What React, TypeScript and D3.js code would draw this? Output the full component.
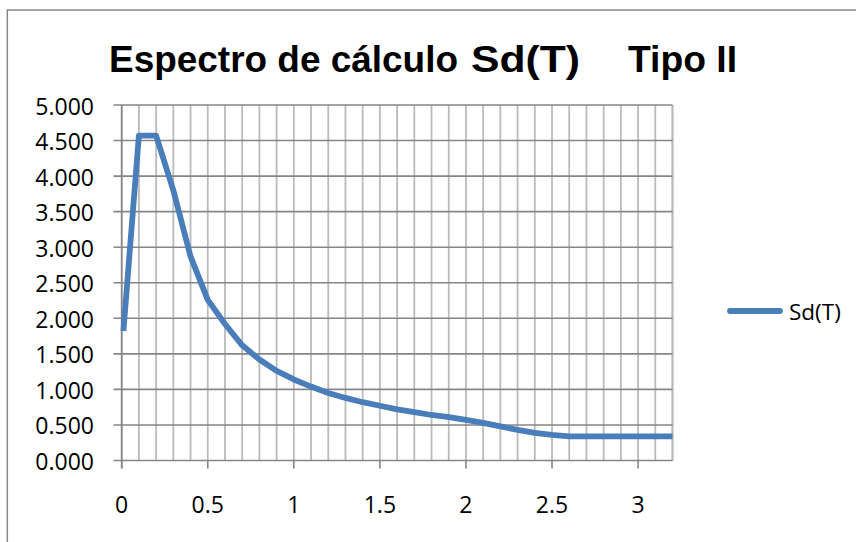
import React from "react";
import * as d3 from "d3";

const periods = [0.01, 0.1, 0.2, 0.3, 0.4, 0.5, 0.6, 0.7, 0.8, 0.9, 1.0, 1.1, 1.2, 1.3, 1.4, 1.5, 1.6, 1.7, 1.8, 1.9, 2.0, 2.1, 2.2, 2.3, 2.4, 2.5, 2.6, 2.7, 2.8, 2.9, 3.0, 3.1, 3.2];
const sdValues = [1.82, 4.57, 4.57, 3.8, 2.87, 2.26, 1.92, 1.62, 1.42, 1.26, 1.14, 1.04, 0.95, 0.88, 0.82, 0.77, 0.72, 0.68, 0.64, 0.61, 0.57, 0.53, 0.48, 0.43, 0.39, 0.36, 0.34, 0.34, 0.34, 0.34, 0.34, 0.34, 0.34];
const yTicks = [0, 0.5, 1, 1.5, 2, 2.5, 3, 3.5, 4, 4.5, 5];
const xMajorTicks = [0, 0.5, 1, 1.5, 2, 2.5, 3];
const xMinorTicks = d3.range(0, 33).map((i) => i / 10);
const seriesName = "Sd(T)";
const titleParts = ["Espectro de cálculo", "Sd(T)", "Tipo II"];

export default function App() {
  const x = d3.scaleLinear().domain([0, 3.2]).range([121.7, 672.5]);
  const y = d3.scaleLinear().domain([0, 5]).range([460.5, 105]);
  const data = periods.map((t, i) => [t, sdValues[i]] as [number, number]);
  const line = d3
    .line<[number, number]>()
    .x((d) => x(d[0]))
    .y((d) => y(d[1]));
  const lineColor = "#4A7EBB";
  const majorGrid = "#868686";
  const minorGrid = "#BBBBBB";
  const tickFont = "'Open Sans', 'Noto Sans', sans-serif";
  const titleFont = "'Liberation Sans Narrow', 'Liberation Sans', Arial, sans-serif";
  const titleX = [[109, 349], [471, 109], [628, 109]];

  return (
    <svg
      width={856}
      height={542}
      style={{ position: "absolute", left: 0, top: 0, background: "#fff" }}
    >
      <rect x={0} y={0} width={856} height={542} fill="#fff" />
      <rect x={7.3} y={10} width={900} height={600} fill="#fff" stroke="#888" strokeWidth={1.5} />

      {titleParts.map((t, i) => (
        <text
          key={t}
          x={titleX[i][0]}
          y={71.7}
          fontFamily={titleFont}
          fontWeight="bold"
          fontSize={36}
          textLength={titleX[i][1]}
          lengthAdjust="spacingAndGlyphs"
          fill="#000"
        >
          {t}
        </text>
      ))}

      {xMinorTicks.map((t) => (
        <line key={"vx" + t} x1={x(t)} x2={x(t)} y1={y(5)} y2={y(0)} stroke={minorGrid} strokeWidth={1.8} />
      ))}
      <line x1={x(3.2)} x2={x(3.2)} y1={y(5)} y2={y(0)} stroke={minorGrid} strokeWidth={1.8} />
      {yTicks.map((v) => (
        <line key={"gy" + v} x1={113.5} x2={x(3.2)} y1={y(v)} y2={y(v)} stroke={majorGrid} strokeWidth={1.6} />
      ))}
      <line x1={x(0)} x2={x(0)} y1={y(5)} y2={y(0) + 8} stroke={majorGrid} strokeWidth={1.6} />
      {xMajorTicks.map((t) => (
        <line key={"tx" + t} x1={x(t)} x2={x(t)} y1={y(0)} y2={y(0) + 8} stroke={majorGrid} strokeWidth={1.6} />
      ))}

      {yTicks.map((v) => (
        <text
          key={"ly" + v}
          x={94}
          y={y(v) + 9.5}
          textAnchor="end"
          fontFamily={tickFont}
          fontSize={23}
          fill="#000"
        >
          {v.toFixed(3)}
        </text>
      ))}
      {xMajorTicks.map((t) => (
        <text
          key={"lx" + t}
          x={x(t)}
          y={513}
          textAnchor="middle"
          fontFamily={tickFont}
          fontSize={23}
          fill="#000"
        >
          {String(t)}
        </text>
      ))}

      <path
        d={line(data) || ""}
        fill="none"
        stroke={lineColor}
        strokeWidth={5.8}
        strokeLinejoin="round"
        strokeLinecap="butt"
      />

      <line x1={730} x2={780} y1={311} y2={311} stroke={lineColor} strokeWidth={5.8} strokeLinecap="round" />
      <text x={789} y={320} fontFamily={tickFont} fontSize={22.5} fill="#000">
        {seriesName}
      </text>
    </svg>
  );
}
